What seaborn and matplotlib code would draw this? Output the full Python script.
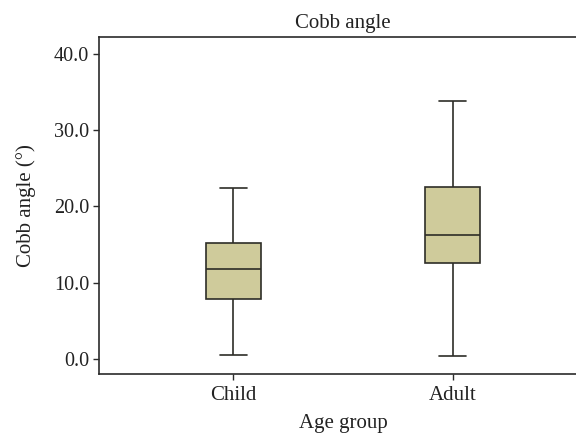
import pandas as pd
import numpy as np
import seaborn as sns
import matplotlib.pyplot as plt

# Five-number summaries (min, Q1, median, Q3, max)
groups = ['Child', 'Adult']
child_vals = [0.5, 7.8, 11.75, 15.2, 22.4]
adult_vals = [0.4, 12.6, 16.3, 22.6, 33.9]
y_ticks = [0.0, 10.0, 20.0, 30.0, 40.0]

# With five points, linear quartiles fall exactly on the 2nd and 4th values
data = pd.DataFrame({
    'Age group': ['Child'] * len(child_vals) + ['Adult'] * len(adult_vals),
    'Cobb angle': child_vals + adult_vals,
})

sns.set_theme(style="white")
plt.rcParams['font.family'] = ['Liberation Serif', 'DejaVu Serif']

fig = plt.figure(figsize=(5.76, 4.34), dpi=100)
ax = fig.add_axes([99 / 576, 1 - 374 / 434, (587 - 99) / 576, (374 - 37.3) / 434])

sns.boxplot(x='Age group', y='Cobb angle', data=data, order=groups,
            whis=(0, 100), width=0.25, color='#cfcb9b', saturation=1,
            linecolor='#2e2d27', linewidth=1.2, showfliers=False, ax=ax)

ax.set_xlim(-0.612, 1.612)
ax.set_ylim(-2.0, 42.2)
ax.set_yticks(y_ticks)
ax.set_yticklabels([f"{t:.1f}" for t in y_ticks])

for side in ['left', 'bottom', 'top', 'right']:
    ax.spines[side].set_color('#2b2b2b')
    ax.spines[side].set_linewidth(1.2)

ax.tick_params(axis='both', direction='out', length=4, width=1, color='#2b2b2b',
               labelcolor='#222222', bottom=True, left=True)
ax.tick_params(axis='y', labelsize=14.5, pad=3)
ax.tick_params(axis='x', labelsize=15, pad=5)
ax.set_title("Cobb angle", fontsize=15, color='#222222', pad=7)
ax.set_xlabel("Age group", fontsize=15, color='#222222', labelpad=6)
ax.set_ylabel("Cobb angle (°)", fontsize=15, color='#222222', labelpad=13)

fig.savefig("out.png", dpi=100)
